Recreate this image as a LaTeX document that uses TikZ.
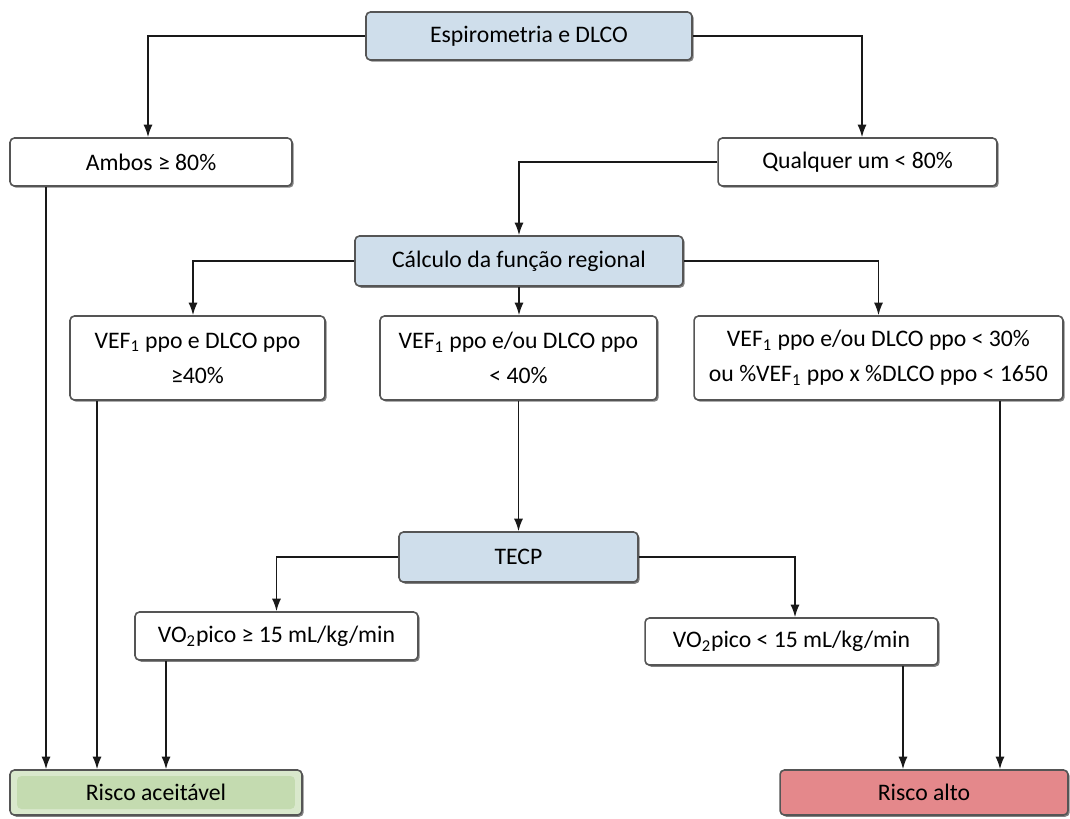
\documentclass[tikz,border=0pt]{standalone}
\usepackage{fontspec}
\setmainfont{Carlito}
\usetikzlibrary{arrows.meta,shadows}
\definecolor{boxblue}{HTML}{CFDEEB}
\definecolor{greenout}{HTML}{D9E8CC}
\definecolor{greenin}{HTML}{C4DBB0}
\definecolor{riskred}{HTML}{E4888B}
\definecolor{edge}{HTML}{555555}
\tikzset{
  box/.style={draw=edge, line width=0.9pt, rounded corners=2.5pt, fill=white,
    align=center, inner sep=0pt,
    font=\fontsize{13.5}{20}\selectfont,
    drop shadow={shadow xshift=0.035cm, shadow yshift=-0.035cm, fill=black!70, opacity=0.7}},
  bluebox/.style={box, fill=boxblue},
  greenbox/.style={box, fill=greenout,
    path picture={\fill[greenin] ([shift={(0.14cm,-0.12cm)}]path picture bounding box.north west)
      rectangle ([shift={(-0.14cm,0.12cm)}]path picture bounding box.south east);}},
  redbox/.style={box, fill=riskred},
  arr/.style={draw=black!90, line width=0.9pt, -{Latex[length=0.25cm,width=0.18cm]}}
}
\begin{document}
\begin{tikzpicture}[x=0.02cm,y=-0.02cm]
\useasboundingbox (0,0) rectangle (1070,818);
\node[bluebox, minimum width=6.52cm, minimum height=0.96cm] (esp) at (529,36) {Espirometria e DLCO};
\node[box, minimum width=5.64cm, minimum height=0.96cm] (amb) at (151,162) {Ambos ≥ 80\%};
\node[box, minimum width=5.58cm, minimum height=0.96cm] (qual) at (857.5,162) {Qualquer um < 80\%};
\node[bluebox, minimum width=6.56cm, minimum height=1.0cm] (calc) at (519,261) {Cálculo da função regional};
\node[box, minimum width=5.1cm, minimum height=1.68cm] (b1) at (197.5,358) {VEF\textsubscript{1} ppo e DLCO ppo\\≥40\%};
\node[box, minimum width=5.54cm, minimum height=1.68cm] (b2) at (518.5,358) {VEF\textsubscript{1} ppo e/ou DLCO ppo\\< 40\%};
\node[box, minimum width=7.38cm, minimum height=1.68cm] (b3) at (878.5,358) {VEF\textsubscript{1} ppo e/ou DLCO ppo < 30\%\\ou \%VEF\textsubscript{1} ppo x \%DLCO ppo < 1650};
\node[bluebox, minimum width=4.78cm, minimum height=1.0cm] (tecp) at (518.5,557) {TECP};
\node[box, minimum width=5.66cm, minimum height=0.96cm] (vge) at (276.5,636) {VO\textsubscript{2}pico ≥ 15 mL/kg/min};
\node[box, minimum width=5.86cm, minimum height=0.94cm] (vlt) at (791.5,641.5) {VO\textsubscript{2}pico < 15 mL/kg/min};
\node[greenbox, minimum width=5.84cm, minimum height=0.9cm] (acc) at (156,792.5) {Risco aceitável};
\node[redbox, minimum width=5.76cm, minimum height=0.9cm] (alto) at (924,792.5) {Risco alto};

\draw[arr] (esp.west) -| ([xshift=-0.06cm]amb.north);
\draw[arr] (esp.east) -| ([xshift=0.09cm]qual.north);
\draw[arr] (qual.west) -| (calc.north);
\draw[arr] (calc.west) -| ([xshift=-0.09cm]b1.north);
\draw[arr] (calc.south) -- (calc.south |- b2.north);
\draw[arr] (calc.east) -| (b3.north);
\draw[arr] (b2.south) -- (b2.south |- tecp.north);
\draw[arr] (tecp.west) -| (vge.north);
\draw[arr] (tecp.east) -| ([xshift=0.07cm]vlt.north);
\draw[arr] ([xshift=-2.1cm]amb.south) -- ([xshift=-2.1cm]amb.south |- acc.north);
\draw[arr] ([xshift=-2.01cm]b1.south) -- ([xshift=-2.01cm]b1.south |- acc.north);
\draw[arr] ([xshift=-2.21cm]vge.south) -- ([xshift=-2.21cm]vge.south |- acc.north);
\draw[arr] ([xshift=2.23cm]vlt.south) -- ([xshift=2.23cm]vlt.south |- alto.north);
\draw[arr] ([xshift=2.43cm]b3.south) -- ([xshift=2.43cm]b3.south |- alto.north);
\end{tikzpicture}
\end{document}
